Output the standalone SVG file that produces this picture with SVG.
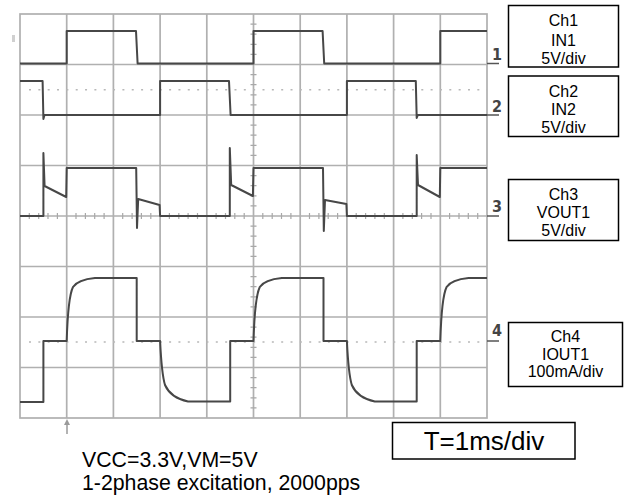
<svg xmlns="http://www.w3.org/2000/svg" width="629" height="495" viewBox="0 0 629 495">
<style>
.grid{stroke:#b0b0b0;stroke-width:1.7;fill:none}
.tick{stroke:#a8a8a8;stroke-width:1.2;fill:none}
.dot{stroke:#b8b8b8;stroke-width:1.6;fill:none;stroke-dasharray:2 7.34}
.tr{stroke:#474747;stroke-width:2;fill:none;stroke-linejoin:round}
.box{fill:#fff;stroke:#000;stroke-width:1.5}
.lbl{font-family:"Liberation Sans",Arial,sans-serif;font-size:16px;fill:#000;text-anchor:middle}
.big{font-family:"Liberation Sans",Arial,sans-serif;font-size:21.3px;fill:#000}
.num{font-family:"Liberation Sans Narrow","DejaVu Sans Condensed","Liberation Sans",sans-serif;font-size:16px;font-weight:bold;fill:#444}
</style>
<rect width="629" height="495" fill="#fff"/>
<g id="graticule">
<rect class="grid" x="20" y="14" width="467" height="404"/>
<path class="grid" d="M66.7,14V418M113.4,14V418M160.1,14V418M206.8,14V418M253.5,14V418M300.2,14V418M346.9,14V418M393.6,14V418M440.3,14V418"/>
<path class="grid" d="M20,64.5H487M20,115H487M20,165.5H487M20,216H487M20,266.5H487M20,317H487M20,367.5H487"/>
<path class="dot" d="M29,89.75H487M29,342H487"/>
<path class="tick" d="M29.3,213V219M38.7,213V219M48,213V219M57.4,213V219M76,213V219M85.4,213V219M94.7,213V219M104.1,213V219M122.7,213V219M132.1,213V219M141.4,213V219M150.8,213V219M169.4,213V219M178.8,213V219M188.1,213V219M197.5,213V219M216.1,213V219M225.5,213V219M234.8,213V219M244.2,213V219M262.8,213V219M272.2,213V219M281.5,213V219M290.9,213V219M309.5,213V219M318.9,213V219M328.2,213V219M337.6,213V219M356.2,213V219M365.6,213V219M374.9,213V219M384.3,213V219M402.9,213V219M412.3,213V219M421.6,213V219M431,213V219M449.6,213V219M459,213V219M468.3,213V219M477.7,213V219"/>
<path class="tick" d="M250.5,24.1H256.5M250.5,34.2H256.5M250.5,44.3H256.5M250.5,54.4H256.5M250.5,74.6H256.5M250.5,84.7H256.5M250.5,94.8H256.5M250.5,104.9H256.5M250.5,125.1H256.5M250.5,135.2H256.5M250.5,145.3H256.5M250.5,155.4H256.5M250.5,175.6H256.5M250.5,185.7H256.5M250.5,195.8H256.5M250.5,205.9H256.5M250.5,226.1H256.5M250.5,236.2H256.5M250.5,246.3H256.5M250.5,256.4H256.5M250.5,276.6H256.5M250.5,286.7H256.5M250.5,296.8H256.5M250.5,306.9H256.5M250.5,327.1H256.5M250.5,337.2H256.5M250.5,347.3H256.5M250.5,357.4H256.5M250.5,377.6H256.5M250.5,387.7H256.5M250.5,397.8H256.5M250.5,407.9H256.5"/>
<rect x="12" y="35" width="3" height="7" fill="#d0d0d0"/>
<path d="M67,419L64,425H70Z" fill="#9a9a9a"/>
<path d="M67,424V434" stroke="#9a9a9a" stroke-width="1.5"/>
</g>
<g id="traces">
<path id="trace-ch1" class="tr" d="M20,63.5H66.7V31H136L137.6,63.5H253.5V31H322.6L324.2,63.5H440.3V31H487"/>
<path id="trace-ch2" class="tr" d="M20,81H42.6L43.4,119L44.5,115H160.1V81H229L230.6,115H346.9V81H415.8L416.7,118L417.8,115H487"/>
<path id="trace-ch3" class="tr" d="M20,216H43.4V153L44.6,186L66.2,197L66.7,168H136.2L137,228L138.2,199L159.6,205L160.1,216H229.8V148L231.2,185L252.9,196L253.5,168H323L323.8,231L325,200L346.4,204L346.9,216H416.7V155L418,185L439.8,197L440.3,168H487"/>
<path id="trace-ch4" class="tr" d="M20,402H43.4V341H66.7C67.5,315 69,295 73,287C77,281 84,279 95,278H136.7V341H160.1C161,360 162,375 165,385C169,394 176,399 188,401.5H230.2V341H253.5C254.3,315 255.8,295 259.8,287C263.8,281 270.8,279 281.8,278H323.5V341H346.9C347.8,360 348.8,375 351.8,385C355.8,394 362.8,399 374.8,401.5H416.7V341H440.3C441.1,315 442.6,295 446.6,287C450.6,281 457.6,279 468.6,278H487"/>
</g>
<g id="channel-markers">
<text class="num" x="492" y="60">1</text>
<path d="M487,63.5H499" stroke="#555" stroke-width="1.5"/>
<text class="num" x="492" y="112">2</text>
<path d="M487,115H499" stroke="#555" stroke-width="1.5"/>
<text class="num" x="492" y="212">3</text>
<path d="M487,216H499" stroke="#555" stroke-width="1.5"/>
<text class="num" x="492" y="336">4</text>
<path d="M487,341H499" stroke="#555" stroke-width="1.5"/>
</g>
<g id="ch1-label">
<rect class="box" x="508.5" y="5.5" width="110" height="61.5"/>
<text class="lbl" x="563.5" y="26">Ch1</text>
<text class="lbl" x="563.5" y="46">IN1</text>
<text class="lbl" x="563.5" y="64">5V/div</text>
</g>
<g id="ch2-label">
<rect class="box" x="508.5" y="76" width="110" height="60.5"/>
<text class="lbl" x="563.5" y="96.5">Ch2</text>
<text class="lbl" x="563.5" y="115">IN2</text>
<text class="lbl" x="563.5" y="133">5V/div</text>
</g>
<g id="ch3-label">
<rect class="box" x="508.5" y="179.5" width="110" height="61"/>
<text class="lbl" x="563.5" y="200">Ch3</text>
<text class="lbl" x="563.5" y="218">VOUT1</text>
<text class="lbl" x="563.5" y="236">5V/div</text>
</g>
<g id="ch4-label">
<rect class="box" x="508.5" y="322.5" width="114" height="64"/>
<text class="lbl" x="565.5" y="342">Ch4</text>
<text class="lbl" x="565.5" y="360">IOUT1</text>
<text class="lbl" x="565.5" y="377">100mA/div</text>
</g>
<g id="timebase">
<rect class="box" x="392.5" y="422.5" width="182.5" height="36.5"/>
<text x="484" y="449.5" font-family="Liberation Sans,Arial,sans-serif" font-size="26px" text-anchor="middle" fill="#000">T=1ms/div</text>
</g>
<g id="conditions">
<text class="big" x="82" y="466.5">VCC=3.3V,VM=5V</text>
<text class="big" x="82" y="489.5">1-2phase excitation, 2000pps</text>
</g>
</svg>
